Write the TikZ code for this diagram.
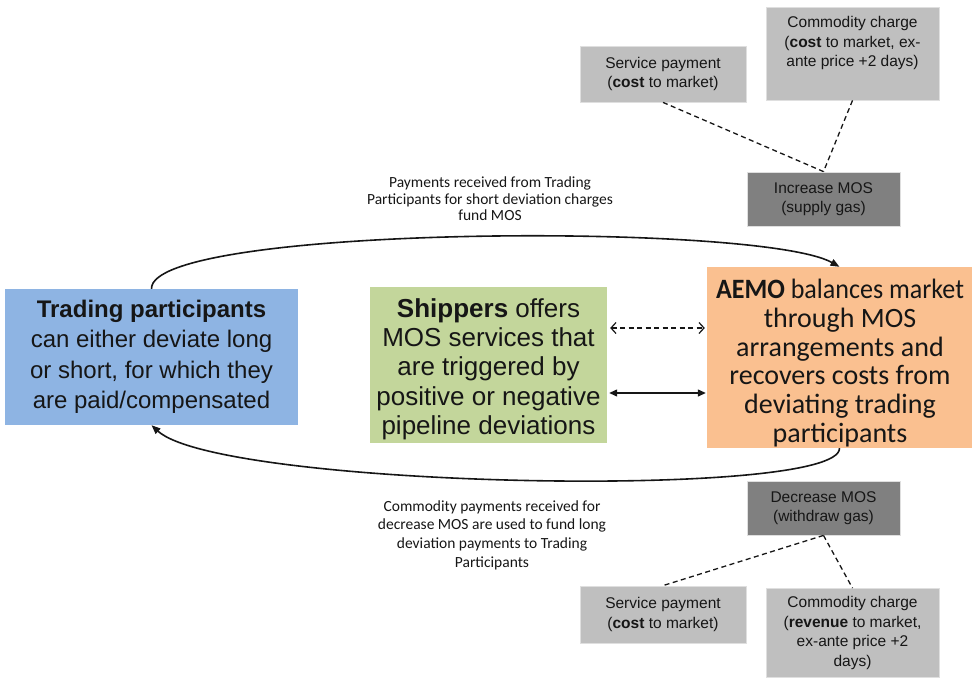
\documentclass[tikz,border=0pt]{standalone}
\usepackage{graphicx}
\usepackage{fontspec}
\setmainfont{Liberation Sans}
\newfontfamily\carlito{Carlito}
\usetikzlibrary{arrows.meta,calc}
\definecolor{tpblue}{RGB}{142,180,227}
\definecolor{shgreen}{RGB}{195,214,155}
\definecolor{aemoor}{RGB}{250,192,144}
\definecolor{lgray}{RGB}{191,191,191}
\definecolor{dgray}{RGB}{128,128,128}
\definecolor{txt}{RGB}{22,22,22}
\begin{document}
\begin{tikzpicture}[x=1pt,y=-1pt,
  box/.style={rectangle,inner sep=0pt,align=center,text=txt},
  gbox/.style={box,fill=lgray,draw=gray!25,line width=0.8pt,font=\fontsize{15.5}{19.5}\selectfont},
  dbox/.style={gbox,fill=dgray},
  lbl/.style={align=center,text=txt,font=\carlito\fontsize{15.5}{16.5}\selectfont},
  dline/.style={dash pattern=on 5pt off 3.5pt,line width=1.3pt,draw=txt},
  curve/.style={line width=1.6pt,draw=txt,-{Triangle[length=9pt,width=7pt]}},
]
\useasboundingbox (0,0) rectangle (973,677);

% main boxes
\node[box,fill=tpblue,minimum width=293pt,minimum height=136pt,
      font=\fontsize{24}{30.5}\selectfont] (tp) at (151.5,357)
  {\textbf{Trading participants}\\can either deviate long\\or short, for which they\\are paid/compensated};
\node[box,fill=shgreen,minimum width=237pt,minimum height=156pt] (sh) at (488.5,365) {};
\node[box,font=\fontsize{26}{29.3}\selectfont] (sht) at (488.5,369)
  {\textbf{Shippers} offers\\MOS services that\\are triggered by\\positive or negative\\pipeline deviations};
\node[box,fill=aemoor,minimum width=265pt,minimum height=181pt] (aemo) at (839.5,357.5) {};
\node[box,font=\carlito\fontsize{28}{28.8}\selectfont] (aemot) at (840,363)
  {\scalebox{0.93}[1]{\textbf{AEMO} balances market}\\through MOS\\arrangements and\\recovers costs from\\deviating trading\\participants};

% gray boxes top
\node[gbox,minimum width=166pt,minimum height=56pt] (sp1) at (663,74)
  {Service payment\\(\textbf{cost} to market)};
\node[gbox,minimum width=173pt,minimum height=93pt] (cc1) at (852.5,53.5) {};
\node[box,font=\fontsize{15.5}{19.5}\selectfont] (cc1t) at (852.5,43)
  {Commodity charge\\(\textbf{cost} to market, ex-\\ante price +2 days)};
\node[dbox,minimum width=153pt,minimum height=54pt] (inc) at (823.5,199)
  {Increase MOS\\(supply gas)};

% gray boxes bottom
\node[dbox,minimum width=153pt,minimum height=54pt] (dec) at (823.5,508)
  {Decrease MOS\\(withdraw gas)};
\node[gbox,minimum width=166pt,minimum height=57pt] (sp2) at (663,614.5)
  {Service payment\\(\textbf{cost} to market)};
\node[gbox,minimum width=173pt,minimum height=89pt] (cc2) at (852.5,633)
  {Commodity charge\\(\textbf{revenue} to market,\\ex-ante price +2\\days)};

% labels
\node[lbl] (ltop) at (490,199)
  {Payments received from Trading\\Participants for short deviation charges\\fund MOS};
\node[lbl,font=\carlito\fontsize{15.5}{18.7}\selectfont] (lbot) at (492,535)
  {Commodity payments received for\\decrease MOS are used to fund long\\deviation payments to Trading\\Participants};

% dashed connectors
\draw[dline] (sp1.south) -- (inc.north);
\draw[dline] (cc1.south) -- (inc.north);
\draw[dline] (dec.south) -- (sp2.north);
\draw[dline] (dec.south) -- (cc2.north);

% horizontal arrows
\draw[dline,{Straight Barb[length=5pt,width=11pt,line width=1.2pt]}-{Straight Barb[length=5pt,width=11pt,line width=1.2pt]},
      shorten <=3pt,shorten >=2pt] (sh.east |- 0,328) -- (aemo.west |- 0,328);
\draw[line width=1.3pt,draw=txt,{Triangle[length=8pt,width=7pt]}-{Triangle[length=8pt,width=7pt]},
      shorten <=2pt,shorten >=1pt] (sh.east |- 0,393) -- (aemo.west |- 0,393);

% curves
\draw[curve] (tp.north) .. controls (150,225) and (760,222) .. (aemo.north);
\draw[curve] (aemo.south) .. controls (840,500) and (220,488) .. (tp.south);
\end{tikzpicture}
\end{document}
